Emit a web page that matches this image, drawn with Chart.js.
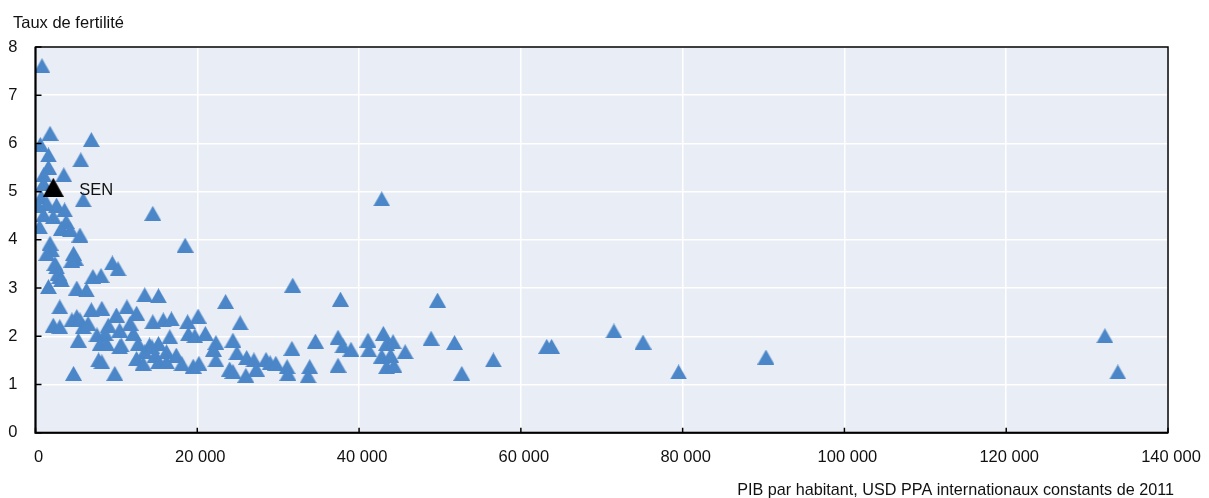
<!DOCTYPE html>
<html>
<head>
<meta charset="utf-8">
<script src="https://cdn.jsdelivr.net/npm/chart.js@4.4.1/dist/chart.umd.min.js"></script>
<style>
  body { margin: 0; background: #fff; }
  #wrap { width: 1209px; height: 498px; }
</style>
</head>
<body>
<div id="wrap"><canvas id="chart" width="1209" height="498"></canvas></div>
<script>
// GDP per capita (USD PPP, constant 2011) and fertility rate, one entry per country
const gdpPerCapita = [
  800, 1800, 6900, 600, 1600, 5600, 1600, 3500, 1000, 1000,
  5900, 700, 14500, 300, 1400, 2600, 3600, 1000, 2200, 500,
  3800, 3200, 4300, 5500, 1800, 2000, 1400, 4700, 18500, 4900,
  2600, 9500, 10200, 3000, 7100, 8100, 1600, 5100, 6300, 13500,
  15200, 3000, 5100, 6900, 8200, 10000, 11300, 12500, 2200, 3000,
  4500, 5500, 5900, 5300, 7600, 8600, 8000, 10400, 10600, 11700,
  12100, 12700, 14500, 15800, 16800, 16600, 14100, 15200, 13500, 12500,
  14800, 16200, 17400, 15200, 16200, 7800, 8200, 4700, 9800, 9000,
  6500, 8800, 10400, 13300, 14400, 2400, 2800, 3200, 4500, 31800,
  23500, 37700, 20100, 18800, 25300, 18900, 19700, 21000, 22300, 24400,
  22000, 24900, 31700, 34600, 37400, 38000, 39000, 18100, 19500, 20200,
  22300, 24000, 24400, 26000, 26100, 27000, 27300, 28500, 29000, 29700,
  31100, 31200, 33900, 33700, 37400, 49700, 41100, 41200, 43000, 43400,
  44200, 42800, 43900, 45700, 43400, 44300, 48900, 51800, 52700, 56600,
  42800, 63800, 63200, 71500, 75100, 79500, 90300, 132200, 133800
];
const fertilityRate = [
  7.61, 6.21, 6.08, 5.98, 5.76, 5.66, 5.51, 5.35, 5.35, 5.17,
  4.83, 4.89, 4.55, 4.72, 4.76, 4.72, 4.62, 4.52, 4.48, 4.27,
  4.38, 4.24, 4.21, 4.10, 3.93, 3.79, 3.72, 3.72, 3.89, 3.62,
  3.44, 3.52, 3.40, 3.24, 3.24, 3.26, 3.03, 3.00, 2.96, 2.86,
  2.84, 2.61, 2.41, 2.55, 2.58, 2.44, 2.61, 2.48, 2.23, 2.20,
  2.34, 2.34, 2.20, 1.92, 2.03, 2.06, 1.85, 2.13, 1.82, 2.27,
  2.06, 1.85, 2.30, 2.34, 2.36, 1.99, 1.82, 1.85, 1.68, 1.54,
  1.61, 1.68, 1.61, 1.47, 1.47, 1.51, 1.47, 1.23, 1.23, 2.23,
  2.27, 1.85, 1.78, 1.44, 1.78, 3.51, 3.31, 3.17, 3.58, 3.06,
  2.72, 2.77, 2.42, 2.30, 2.28, 2.05, 2.01, 2.06, 1.87, 1.92,
  1.73, 1.66, 1.75, 1.90, 1.98, 1.80, 1.73, 1.43, 1.38, 1.44,
  1.51, 1.32, 1.27, 1.19, 1.56, 1.51, 1.32, 1.52, 1.45, 1.44,
  1.37, 1.23, 1.37, 1.18, 1.40, 2.75, 1.92, 1.72, 2.06, 1.85,
  1.89, 1.59, 1.61, 1.68, 1.37, 1.40, 1.96, 1.87, 1.23, 1.51,
  4.85, 1.79, 1.79, 2.11, 1.88, 1.26, 1.57, 2.01, 1.26
];

// Highlighted country
const highlightLabel = 'SEN';
const highlightGdp = [2200];
const highlightRate = [5.09];

const yTitle = 'Taux de fertilité';
const xTitle = 'PIB par habitant, USD PPA internationaux constants de 2011';

const FONT = "'Liberation Sans', Arial, sans-serif";
const FONT_SIZE = 16.5;
const BLUE = '#4a86c8';

const points = gdpPerCapita.map((g, i) => ({ x: g, y: fertilityRate[i] }));
const highlight = highlightGdp.map((g, i) => ({ x: g, y: highlightRate[i] }));

function fmtThousands(v) {
  return String(v).replace(/\B(?=(\d{3})+(?!\d))/g, ' ');
}

// marker image: triangle about as tall as it is wide, centred on its box
function triangleMarker(w, h, color) {
  const c = document.createElement('canvas');
  c.width = w;
  c.height = h;
  const g = c.getContext('2d');
  g.fillStyle = color;
  g.beginPath();
  g.moveTo(w / 2, 0);
  g.lineTo(w, h);
  g.lineTo(0, h);
  g.closePath();
  g.fill();
  return c;
}

// plot background, frame, inward ticks, titles and the SEN label
const decorations = {
  id: 'decorations',
  beforeDraw(chart) {
    const { ctx, chartArea: a } = chart;
    ctx.save();
    ctx.fillStyle = '#e9edf5';
    ctx.fillRect(a.left, a.top, a.right - a.left, a.bottom - a.top);
    ctx.restore();
  },
  afterDraw(chart) {
    const { ctx, chartArea: a, scales } = chart;
    ctx.save();
    ctx.strokeStyle = '#000';

    // frame
    ctx.lineWidth = 1.5;
    ctx.strokeRect(a.left, a.top, a.right - a.left, a.bottom - a.top);
    ctx.lineWidth = 2;
    ctx.beginPath();
    ctx.moveTo(a.left, a.top);
    ctx.lineTo(a.left, a.bottom);
    ctx.lineTo(a.right, a.bottom);
    ctx.stroke();

    // inward ticks
    ctx.lineWidth = 1.5;
    ctx.beginPath();
    scales.y.ticks.forEach(t => {
      const py = scales.y.getPixelForValue(t.value);
      ctx.moveTo(a.left, py);
      ctx.lineTo(a.left + 6, py);
    });
    scales.x.ticks.forEach(t => {
      const px = scales.x.getPixelForValue(t.value);
      ctx.moveTo(px, a.bottom);
      ctx.lineTo(px, a.bottom - 5);
    });
    ctx.stroke();

    // titles
    ctx.fillStyle = '#111';
    ctx.textBaseline = 'alphabetic';
    ctx.font = FONT_SIZE + 'px ' + FONT;
    ctx.textAlign = 'left';
    ctx.fillText(yTitle, 13, 28);
    ctx.font = '16.2px ' + FONT;
    ctx.textAlign = 'right';
    ctx.fillText(xTitle, 1174, 495);

    // label next to highlighted point
    const pt = chart.getDatasetMeta(0).data[0];
    ctx.font = FONT_SIZE + 'px ' + FONT;
    ctx.textAlign = 'left';
    ctx.fillText(highlightLabel, pt.x + 26, pt.y + 8);
    ctx.restore();
  }
};

new Chart(document.getElementById('chart'), {
  type: 'scatter',
  data: {
    datasets: [
      {
        label: highlightLabel,
        data: highlight,
        pointStyle: triangleMarker(21, 19, '#000'),
        pointRadius: 10,
        backgroundColor: '#000',
        borderWidth: 0
      },
      {
        label: 'Pays',
        data: points,
        pointStyle: triangleMarker(17, 15, BLUE),
        pointRadius: 8,
        backgroundColor: BLUE,
        borderWidth: 0
      }
    ]
  },
  options: {
    responsive: false,
    animation: false,
    events: [],
    layout: {
      padding: { top: 47, right: 41, left: 0, bottom: 0 }
    },
    plugins: {
      legend: { display: false },
      tooltip: { enabled: false }
    },
    scales: {
      x: {
        type: 'linear',
        min: 0,
        max: 140000,
        afterFit(scale) {
          scale.height = 65.3;
          scale.paddingLeft = 0;
          scale.paddingRight = 0;
        },
        ticks: {
          stepSize: 20000,
          padding: 15,
          labelOffset: 3,
          color: '#111',
          font: { family: FONT, size: FONT_SIZE },
          callback: v => fmtThousands(v)
        },
        grid: { color: '#fff', lineWidth: 1.5, drawTicks: false },
        border: { display: false }
      },
      y: {
        min: 0,
        max: 8,
        afterFit(scale) {
          scale.width = 35.5;
          scale.paddingTop = 0;
          scale.paddingBottom = 0;
        },
        ticks: {
          stepSize: 1,
          padding: 18,
          color: '#111',
          font: { family: FONT, size: FONT_SIZE }
        },
        grid: { color: '#fff', lineWidth: 1.5, drawTicks: false },
        border: { display: false }
      }
    }
  },
  plugins: [decorations]
});
</script>
</body>
</html>
